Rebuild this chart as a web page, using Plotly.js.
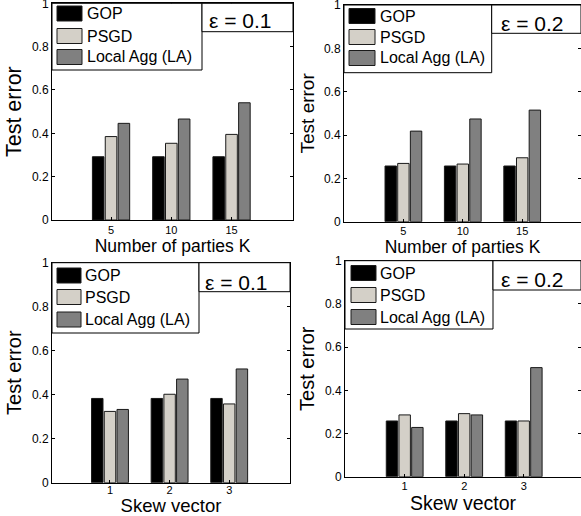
<!DOCTYPE html>
<html><head><meta charset="utf-8">
<script src="https://cdn.plot.ly/plotly-3.0.1.min.js"></script>
<style>html,body{margin:0;padding:0;background:#fff}#chart{width:581px;height:516px}</style>
</head><body><div id="chart"></div>
<script>
// ---- data ----
const seriesNames = ["GOP", "PSGD", "Local Agg (LA)"];
const seriesColors = ["#000000", "#d4d0c8", "#808080"];
const partiesK = ["5", "10", "15"];
const skewVectors = ["1", "2", "3"];
// Number of parties K, eps = 0.1
const kEps01GOP = [0.292, 0.292, 0.292];
const kEps01PSGD = [0.385, 0.354, 0.395];
const kEps01LA = [0.446, 0.466, 0.541];
// Number of parties K, eps = 0.2
const kEps02GOP = [0.257, 0.257, 0.257];
const kEps02PSGD = [0.269, 0.266, 0.295];
const kEps02LA = [0.418, 0.474, 0.515];
// Skew vector, eps = 0.1
const skewEps01GOP = [0.383, 0.383, 0.383];
const skewEps01PSGD = [0.324, 0.402, 0.358];
const skewEps01LA = [0.333, 0.471, 0.517];
// Skew vector, eps = 0.2
const skewEps02GOP = [0.258, 0.258, 0.258];
const skewEps02PSGD = [0.286, 0.292, 0.258];
const skewEps02LA = [0.228, 0.286, 0.505];
const epsLabels = ["ε = 0.1", "ε = 0.2", "ε = 0.1", "ε = 0.2"];
const xTitles = ["Number of parties K", "Number of parties K", "Skew vector", "Skew vector"];
const yTitle = "Test error";

const panelData = [
  {x: partiesK, s: [kEps01GOP, kEps01PSGD, kEps01LA]},
  {x: partiesK, s: [kEps02GOP, kEps02PSGD, kEps02LA]},
  {x: skewVectors, s: [skewEps01GOP, skewEps01PSGD, skewEps01LA]},
  {x: skewVectors, s: [skewEps02GOP, skewEps02PSGD, skewEps02LA]}
];

// ---- geometry (pixels) ----
const W = 581, H = 516;
const px = v => v / W;
const py = v => 1 - v / H;
const geom = [
  {l:52, r:293, t:3.3, b:220, xr:[-0.98,3.02], legR:202, legB:70, epsB:31.7, swL:57, swR:82, rows:[13.5,36,57], txtX:85, epsX:240, epsY:21, xtSize:17.5, ytSize:21.5, xStand:2, tls:0},
  {l:344, r:581, t:5, b:221.7, xr:[-1,2.99], legR:491.7, legB:72.7, epsB:33.3, swL:349, swR:375, rows:[16,37,58], txtX:378, epsX:532.5, epsY:24, xtSize:17.5, ytSize:19, xStand:0, tls:-1},
  {l:52, r:290, t:262.7, b:482.7, xr:[-0.973,3.02], legR:199, legB:333, epsB:291.7, swL:57, swR:81, rows:[275.5,297,319.5], txtX:83.3, epsX:236.7, epsY:282, xtSize:18.5, ytSize:20, xStand:4, tls:-3},
  {l:345, r:581, t:260.7, b:476.7, xr:[-1.003,2.963], legR:493, legB:329, epsB:290, swL:351, swR:376, rows:[273,295,317], txtX:378, epsX:532.5, epsY:279, xtSize:19.5, ytSize:20, xStand:4, tls:-1}
];

const FONT = "'Liberation Sans', Arial, Helvetica, sans-serif";
const traces = [];
const layout = {
  width: W, height: H,
  margin: {l:0, r:0, t:0, b:0, pad:0},
  paper_bgcolor: "#ffffff", plot_bgcolor: "#ffffff",
  font: {family: FONT, color: "#000000"},
  barmode: "group", bargap: 0.36, bargroupgap: 0.1,
  showlegend: false,
  shapes: [], annotations: []
};

panelData.forEach((p, i) => {
  const g = geom[i];
  const n = i + 1;
  const xa = n === 1 ? "x" : "x" + n;
  const ya = n === 1 ? "y" : "y" + n;
  p.s.forEach((vals, k) => {
    traces.push({
      type: "bar", x: p.x, y: vals, name: seriesNames[k],
      xaxis: xa, yaxis: ya,
      marker: {color: seriesColors[k], line: {color: "#1a1a1a", width: 1}},
      hoverinfo: "x+y+name"
    });
  });
  const axCommon = {
    showline: true, linecolor: "#000", linewidth: 1, mirror: "ticks",
    ticks: "inside", ticklen: 3, tickcolor: "#000", tickwidth: 1,
    showgrid: false, zeroline: false, fixedrange: true, ticklabeloverflow: "allow"
  };
  layout["xaxis" + (n === 1 ? "" : n)] = Object.assign({}, axCommon, {
    type: "category", anchor: ya, domain: [px(g.l), px(g.r)], range: g.xr,
    tickfont: {size: 11, family: FONT, color: "#000"}, ticklabelstandoff: g.tls,
    title: {text: xTitles[i], font: {size: g.xtSize, family: FONT, color: "#000"}, standoff: g.xStand}
  });
  layout["yaxis" + (n === 1 ? "" : n)] = Object.assign({}, axCommon, {
    anchor: xa, domain: [py(g.b), py(g.t)], range: [0, 1], dtick: 0.2, tick0: 0,
    tickfont: {size: 12, family: FONT, color: "#000"},
    title: {text: yTitle, font: {size: g.ytSize, family: FONT, color: "#000"}, standoff: 4}
  });
  // legend box
  layout.shapes.push({type: "rect", xref: "paper", yref: "paper",
    x0: px(g.l), x1: px(g.legR), y0: py(g.legB), y1: py(g.t),
    line: {color: "#000", width: 1}, fillcolor: "#ffffff"});
  // epsilon box
  layout.shapes.push({type: "rect", xref: "paper", yref: "paper",
    x0: px(g.legR), x1: px(g.r), y0: py(g.epsB), y1: py(g.t),
    line: {color: "#000", width: 1}, fillcolor: "#ffffff"});
  seriesNames.forEach((nm, k) => {
    const row = g.rows[k];
    layout.shapes.push({type: "rect", xref: "paper", yref: "paper",
      x0: px(g.swL), x1: px(g.swR), y0: py(row + 7.5), y1: py(row - 7.5),
      line: {color: "#1a1a1a", width: 1}, fillcolor: seriesColors[k]});
    layout.annotations.push({xref: "paper", yref: "paper", x: px(g.txtX), y: py(row),
      xanchor: "left", yanchor: "middle", text: nm, showarrow: false,
      font: {size: 16, family: FONT, color: "#000"}});
  });
  layout.annotations.push({xref: "paper", yref: "paper", x: px(g.epsX), y: py(g.epsY),
    xanchor: "center", yanchor: "middle", text: epsLabels[i], showarrow: false,
    font: {size: 21, family: FONT, color: "#000"}});
});

Plotly.newPlot("chart", traces, layout, {displayModeBar: false, staticPlot: true});
</script>
</body></html>
